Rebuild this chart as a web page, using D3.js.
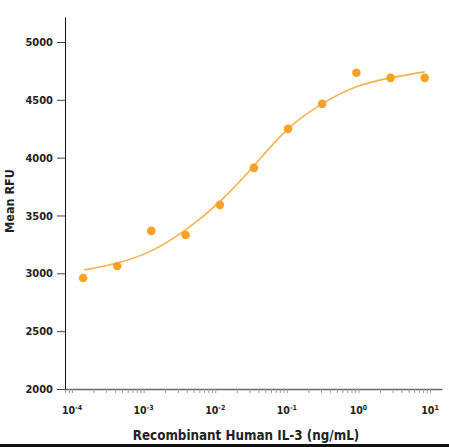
<!DOCTYPE html>
<html>
<head>
    <meta charset="UTF-8">
    <title>IL-3</title>
    <style>
        body { margin: 0; background: #fff; }
        svg text { font-family: "DejaVu Sans Condensed", "Liberation Sans Narrow", sans-serif; font-weight: bold; fill: #222; }
    </style>
</head>
<body>
<div id="chart"></div>
<script src="https://cdn.jsdelivr.net/npm/d3@7"></script>
<script>
    // measured points (ng/mL, Mean RFU)
    var doses = [0.000143, 0.000428, 0.00128, 0.00385, 0.0116, 0.0347, 0.104, 0.312, 0.936, 2.81, 8.42];
    var rfu = [2960, 3064, 3367, 3332, 3592, 3912, 4249, 4465, 4734, 4690, 4690];
    // fitted curve
    var fitDoses = [0.000148, 0.000428, 0.00128, 0.00385, 0.0116, 0.0347, 0.104, 0.312, 0.936, 2.81, 8.42];
    var fitRfu = [3030, 3090, 3194, 3375, 3620, 3930, 4249, 4465, 4612, 4690, 4742];
    var yTicks = [2000, 2500, 3000, 3500, 4000, 4500, 5000];
    var xMajors = [-4, -3, -2, -1, 0, 1];

    var width = 449, height = 447;
    var svg = d3.select("#chart").append("svg")
        .attr("width", width).attr("height", height);

    var x = d3.scaleLog().domain([7.98e-5, 14.7]).range([65, 442]);
    var y = d3.scaleLinear().domain([2000, 5216]).range([389, 17]);

    // minor + major ticks for the log axis
    var minors = [];
    xMajors.concat([-5]).forEach(function (e) {
        for (var k = 1; k < 10; k++) {
            var v = k * Math.pow(10, e);
            if (v >= x.domain()[0] && v <= x.domain()[1]) minors.push(v);
        }
    });

    var gx = svg.append("g").attr("transform", "translate(0,389)")
        .call(d3.axisBottom(x).tickValues(minors).tickSize(4).tickFormat("").tickSizeOuter(0));
    gx.select(".domain").attr("stroke", "#666").attr("stroke-width", 1.5);
    gx.selectAll(".tick line").attr("stroke", "#999");

    var labels = svg.append("g").selectAll("text")
        .data(xMajors).join("text")
        .attr("x", function (d) { return x(Math.pow(10, d)); })
        .attr("y", 414)
        .attr("text-anchor", "middle")
        .attr("font-size", 10.5);
    labels.append("tspan").text("10");
    labels.append("tspan").attr("dy", -4).attr("font-size", 7).text(function (d) { return d; });

    var gy = svg.append("g").attr("transform", "translate(65,0)")
        .call(d3.axisLeft(y).tickValues(yTicks).tickSize(8).tickPadding(4).tickSizeOuter(0).tickFormat(d3.format("d")));
    gy.select(".domain").attr("stroke", "#111");
    gy.selectAll(".tick line").attr("stroke", "#444");
    gy.selectAll(".tick text").attr("font-size", 11).attr("fill", "#222")
        .attr("font-family", "'DejaVu Sans Condensed', sans-serif");

    // axis titles
    svg.append("text")
        .attr("transform", "translate(14,201) rotate(-90)")
        .attr("text-anchor", "middle")
        .attr("font-size", 12.5)
        .text("Mean RFU");
    svg.append("text")
        .attr("x", 246).attr("y", 440)
        .attr("text-anchor", "middle")
        .attr("font-size", 13.3)
        .text("Recombinant Human IL-3 (ng/mL)");

    // fit line
    var line = d3.line()
        .x(function (d) { return x(d[0]); })
        .y(function (d) { return y(d[1]); })
        .curve(d3.curveNatural);
    svg.append("path")
        .datum(d3.zip(fitDoses, fitRfu))
        .attr("d", line)
        .attr("fill", "none")
        .attr("stroke", "#F8B050")
        .attr("stroke-width", 1.6);

    svg.append("g").selectAll("circle")
        .data(d3.zip(doses, rfu)).join("circle")
        .attr("cx", function (d) { return x(d[0]); })
        .attr("cy", function (d) { return y(d[1]); })
        .attr("r", 4.3)
        .attr("fill", "#F7A127");

    // black band at the bottom
    svg.append("rect").attr("x", 0).attr("y", 444).attr("width", width).attr("height", 3).attr("fill", "#111");
</script>
</body>
</html>
